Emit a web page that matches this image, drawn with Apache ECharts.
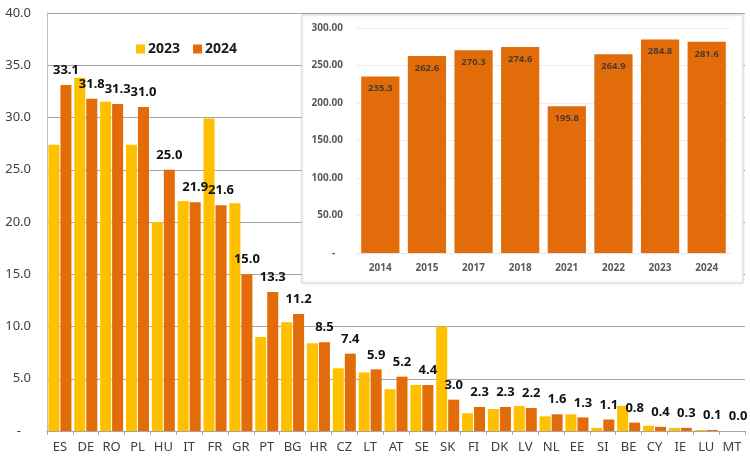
<!DOCTYPE html>
<html>
<head>
<meta charset="utf-8">
<script src="https://cdn.jsdelivr.net/npm/echarts@6/dist/echarts.min.js"></script>
<style>
  html, body { margin: 0; padding: 0; background: #fff; }
  #chart { width: 750px; height: 459px; }
</style>
</head>
<body>
<div id="chart"></div>
<script>
const countries = ['ES', 'DE', 'RO', 'PL', 'HU', 'IT', 'FR', 'GR', 'PT', 'BG', 'HR', 'CZ', 'LT', 'AT',
  'SE', 'SK', 'FI', 'DK', 'LV', 'NL', 'EE', 'SI', 'BE', 'CY', 'IE', 'LU', 'MT']
const values2023 = [27.4, 33.8, 31.5, 27.4, 20.0, 22.0, 29.9, 21.8, 9.0, 10.4, 8.4, 6.0, 5.6, 4.0,
  4.4, 10.0, 1.7, 2.1, 2.4, 1.4, 1.6, 0.3, 2.4, 0.5, 0.3, 0.1, 0.0]
const values2024 = [33.1, 31.8, 31.3, 31.0, 25.0, 21.9, 21.6, 15.0, 13.3, 11.2, 8.5, 7.4, 5.9, 5.2,
  4.4, 3.0, 2.3, 2.3, 2.2, 1.6, 1.3, 1.1, 0.8, 0.4, 0.3, 0.1, 0.0]
const years = ['2014', '2015', '2017', '2018', '2021', '2022', '2023', '2024']
const yearTotals = [235.3, 262.6, 270.3, 274.6, 195.8, 264.9, 284.8, 281.6]
const mainTicks = { min: 0, max: 40, interval: 5 }
const insetTicks = { min: 0, max: 300, interval: 50 }

const YELLOW = '#FFC000'
const ORANGE = '#E36C0A'
const FONT = 'Noto Sans'

const chart = echarts.init(document.getElementById('chart'))

chart.setOption({
  animation: false,
  textStyle: { fontFamily: FONT },
  legend: {
    data: ['2023', '2024'],
    left: 131,
    top: 37,
    itemWidth: 9,
    itemHeight: 9,
    itemGap: 13,
    icon: 'rect',
    textStyle: { fontSize: 14, fontWeight: 'bold', color: '#1a1a1a', padding: [0, 0, 0, -2] }
  },
  graphic: [{
    type: 'rect',
    z: 5,
    shape: { x: 302, y: 15, width: 441, height: 268 },
    style: { fill: '#fff', stroke: '#d9d9d9', lineWidth: 1, shadowBlur: 3, shadowColor: 'rgba(0,0,0,0.12)' }
  }],
  grid: [
    { left: 47, right: 5, top: 13, bottom: 28 },
    { left: 357, right: 20, top: 28, bottom: 206, z: 10 }
  ],
  xAxis: [{
    type: 'category',
    gridIndex: 0,
    data: countries,
    axisLine: { lineStyle: { color: '#a6a6a6' } },
    axisTick: { show: true, length: 4, lineStyle: { color: '#a6a6a6' } },
    axisLabel: { fontSize: 13, color: '#404040', margin: 10, interval: 0 }
  }, {
    type: 'category',
    gridIndex: 1,
    data: years,
    z: 10,
    axisLine: { lineStyle: { color: '#e6e6e6' } },
    axisTick: { show: false },
    axisLabel: { fontSize: 10, fontWeight: 'bold', color: '#595959', margin: 10 }
  }],
  yAxis: [{
    type: 'value',
    gridIndex: 0,
    min: mainTicks.min,
    max: mainTicks.max,
    interval: mainTicks.interval,
    axisLine: { show: true, lineStyle: { color: '#bfbfbf' } },
    axisTick: { show: false },
    splitLine: { lineStyle: { color: '#a6a6a6' } },
    axisLabel: {
      fontSize: 13,
      color: '#404040',
      margin: 16,
      formatter: v => v === 0 ? '-   ' : v.toFixed(1)
    }
  }, {
    type: 'value',
    gridIndex: 1,
    min: insetTicks.min,
    max: insetTicks.max,
    interval: insetTicks.interval,
    z: 10,
    axisLine: { show: false },
    axisTick: { show: false },
    splitLine: { lineStyle: { color: '#ececec' } },
    axisLabel: {
      fontSize: 10,
      fontWeight: 'bold',
      color: '#595959',
      margin: 14,
      formatter: v => v === 0 ? '-   ' : v.toFixed(2)
    }
  }],
  series: [{
    name: '2023',
    type: 'bar',
    xAxisIndex: 0,
    yAxisIndex: 0,
    data: values2023,
    itemStyle: { color: YELLOW },
    barGap: '9%',
    barCategoryGap: '11%'
  }, {
    name: '2024',
    type: 'bar',
    xAxisIndex: 0,
    yAxisIndex: 0,
    data: values2024,
    itemStyle: { color: ORANGE },
    barGap: '9%',
    barCategoryGap: '11%',
    label: {
      show: true,
      position: 'top',
      distance: 8,
      fontSize: 13,
      fontWeight: 'bold',
      color: '#111',
      formatter: p => p.value.toFixed(1)
    }
  }, {
    name: 'total',
    type: 'bar',
    xAxisIndex: 1,
    yAxisIndex: 1,
    z: 10,
    data: yearTotals,
    itemStyle: { color: ORANGE },
    barCategoryGap: '18%',
    label: {
      show: true,
      position: 'insideTop',
      distance: 7,
      fontSize: 9.5,
      fontWeight: 'bold',
      color: '#4a3a30',
      formatter: p => p.value.toFixed(1)
    }
  }]
})
</script>
</body>
</html>
